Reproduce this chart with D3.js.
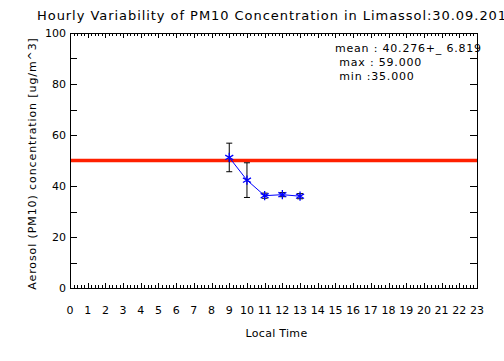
<!DOCTYPE html>
<html>
<head>
<meta charset="utf-8">
<script src="https://cdn.jsdelivr.net/npm/d3@7"></script>
<style>
  body { margin: 0; background: #fff; }
  svg { display: block; font-family: "DejaVu Sans", sans-serif; }
</style>
</head>
<body>
<svg width="504" height="361"></svg>
<script>
// data
const hours = [9, 10, 11, 12, 13];
const conc = [51.2, 42.3, 36.2, 36.6, 36.0];
const errs = [5.6, 6.8, 1.0, 0.8, 1.0];
const limit = 50;
const stats = ['mean : 40.276+_ 6.819', ' max : 59.000', ' min :35.000'];
const xTicks = d3.range(0, 24);
const yTicks = [0, 20, 40, 60, 80, 100];

const margin = { top: 33, right: 27, bottom: 73, left: 70 },
  width = 504 - margin.left - margin.right,
  height = 361 - margin.top - margin.bottom;

const svg = d3.select('svg');
const g = svg.append('g')
  .attr('transform', `translate(${margin.left}, ${margin.top})`);

const x = d3.scaleLinear().domain([0, 23]).range([0, width]);
const y = d3.scaleLinear().domain([0, 100]).range([height, 0]);

// minor ticks on x (5 per hour), major ones longer
const xMinor = d3.range(0, 23 * 5 + 1).map(i => i / 5);
const yMinor = d3.range(0, 101, 10);

g.selectAll('.xt-b')
  .data(xMinor)
  .enter().append('line')
  .attr('x1', d => Math.round(x(d)) + 0.5)
  .attr('x2', d => Math.round(x(d)) + 0.5)
  .attr('y1', height)
  .attr('y2', (d, i) => height - (i % 5 === 0 ? 5 : 3))
  .attr('stroke', '#000');

g.selectAll('.xt-t')
  .data(xMinor)
  .enter().append('line')
  .attr('x1', d => Math.round(x(d)) + 0.5)
  .attr('x2', d => Math.round(x(d)) + 0.5)
  .attr('y1', 0)
  .attr('y2', (d, i) => (i % 5 === 0 ? 5 : 3))
  .attr('stroke', '#000');

g.selectAll('.yt-l')
  .data(yMinor)
  .enter().append('line')
  .attr('x1', 0).attr('x2', 7)
  .attr('y1', d => Math.round(y(d)) + 0.5)
  .attr('y2', d => Math.round(y(d)) + 0.5)
  .attr('stroke', '#000');

g.selectAll('.yt-r')
  .data(yMinor)
  .enter().append('line')
  .attr('x1', width).attr('x2', width - 7)
  .attr('y1', d => Math.round(y(d)) + 0.5)
  .attr('y2', d => Math.round(y(d)) + 0.5)
  .attr('stroke', '#000');

// frame
g.append('rect')
  .attr('x', 0.5).attr('y', 0.5)
  .attr('width', width).attr('height', height)
  .attr('fill', 'none').attr('stroke', '#000');

// tick labels
g.selectAll('.xl')
  .data(xTicks)
  .enter().append('text')
  .attr('x', d => x(d))
  .attr('y', height + 26)
  .attr('text-anchor', 'middle')
  .attr('font-size', 11)
  .text(d => d);

g.selectAll('.yl')
  .data(yTicks)
  .enter().append('text')
  .attr('x', -4)
  .attr('y', d => y(d) + 4)
  .attr('text-anchor', 'end')
  .attr('font-size', 11)
  .text(d => d);

// limit line
g.append('line')
  .attr('x1', 1).attr('x2', width)
  .attr('y1', y(limit)).attr('y2', y(limit))
  .attr('stroke', '#ff2000').attr('stroke-width', 3.5);

// error bars
const eb = g.selectAll('.eb')
  .data(hours)
  .enter().append('g')
  .attr('stroke', '#000');
eb.append('line')
  .attr('x1', d => x(d)).attr('x2', d => x(d))
  .attr('y1', (d, i) => y(conc[i] - errs[i]))
  .attr('y2', (d, i) => y(conc[i] + errs[i]));
eb.append('line')
  .attr('x1', d => x(d) - 3).attr('x2', d => x(d) + 3)
  .attr('y1', (d, i) => y(conc[i] - errs[i]))
  .attr('y2', (d, i) => y(conc[i] - errs[i]));
eb.append('line')
  .attr('x1', d => x(d) - 3).attr('x2', d => x(d) + 3)
  .attr('y1', (d, i) => y(conc[i] + errs[i]))
  .attr('y2', (d, i) => y(conc[i] + errs[i]));

// series line
g.append('path')
  .datum(hours.map((h, i) => [h, conc[i]]))
  .attr('fill', 'none')
  .attr('stroke', '#0000ff')
  .attr('stroke-width', 1)
  .attr('d', d3.line().x(d => x(d[0])).y(d => y(d[1])));

// asterisk markers
const star = d3.symbol().type(d3.symbolAsterisk).size(60);
g.selectAll('.mk')
  .data(hours)
  .enter().append('path')
  .attr('transform', (d, i) => `translate(${x(d)},${y(conc[i])})`)
  .attr('d', star)
  .attr('fill', 'none')
  .attr('stroke', '#0000ff')
  .attr('stroke-width', 1.3);

// stats text
g.selectAll('.st')
  .data(stats)
  .enter().append('text')
  .attr('x', 265)
  .attr('y', (d, i) => 19 + i * 14)
  .attr('font-size', 11)
  .attr('letter-spacing', 0.8)
  .style('white-space', 'pre')
  .text(d => d);

// titles
svg.append('text')
  .attr('x', 37).attr('y', 20)
  .attr('font-size', 13)
  .attr('letter-spacing', 0.95)
  .style('white-space', 'pre')
  .text('Hourly Variability of PM10 Concentration in Limassol:30.09.2011');

svg.append('text')
  .attr('x', margin.left + width / 2 + 3).attr('y', 337)
  .attr('text-anchor', 'middle')
  .attr('font-size', 11)
  .attr('letter-spacing', 0.3)
  .text('Local Time');

svg.append('text')
  .attr('transform', `translate(36, ${margin.top + height / 2 + 3}) rotate(-90)`)
  .attr('text-anchor', 'middle')
  .attr('font-size', 11)
  .attr('letter-spacing', 0.9)
  .text('Aerosol (PM10) concentration [ug/m^3]');
</script>
</body>
</html>
